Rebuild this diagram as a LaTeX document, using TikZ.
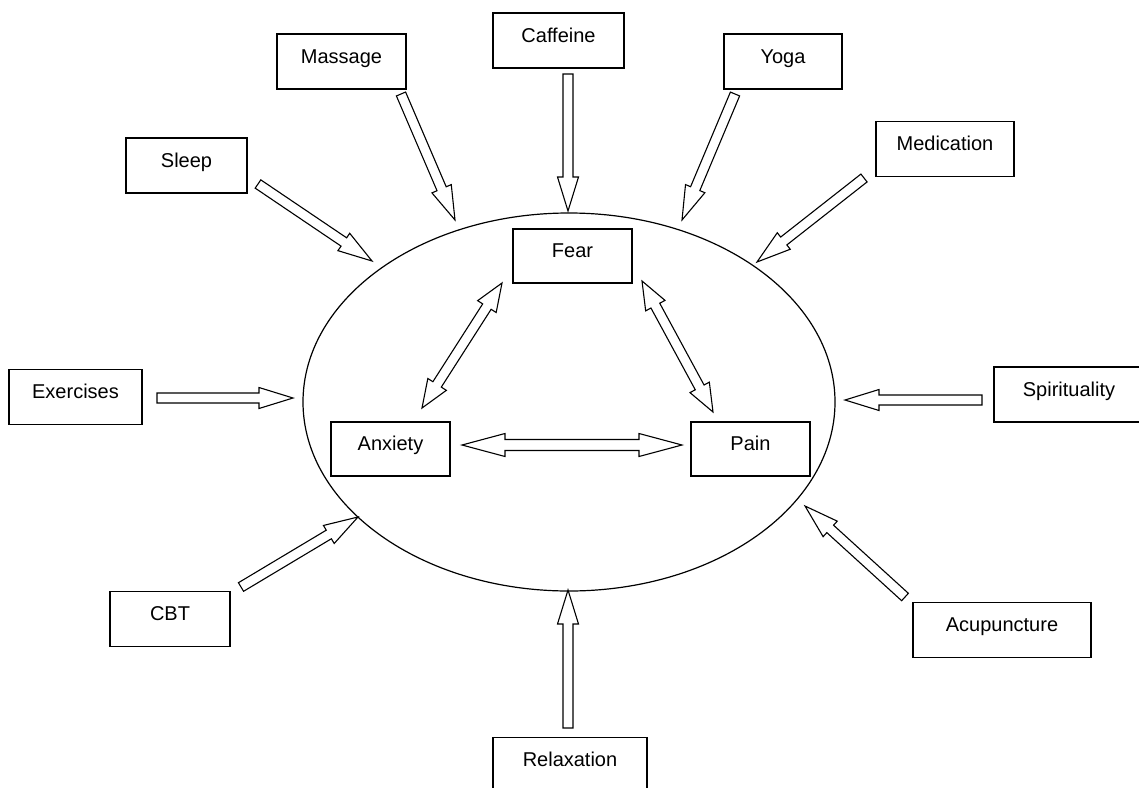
\documentclass[tikz,border=0pt]{standalone}
\usepackage{fontspec}
\setmainfont{Liberation Sans}
\usetikzlibrary{calc,shapes.geometric}
\tikzset{
  box/.style={draw, line width=1.3pt, minimum height=55pt, inner sep=0pt, text height=15pt, text depth=11.7pt, font=\fontsize{20}{24}\selectfont},
  blk/.style={draw, line width=1.1pt, fill=white, line join=miter},
}
\newcommand{\sarrow}[2]{%
  \draw[blk] let \p1=(#1), \p2=(#2), \n1={atan2(\y2-\y1,\x2-\x1)}, \n2={veclen(\x2-\x1,\y2-\y1)} in
  [shift={(\p1)}, rotate=\n1] (0pt,-5pt) -- ({\n2-34pt},-5pt) -- ({\n2-34pt},-10.5pt) -- (\n2,0pt)
  -- ({\n2-34pt},10.5pt) -- ({\n2-34pt},5pt) -- (0pt,5pt) -- cycle;}
\newcommand{\darrow}[5]{%
  \draw[blk] let \p1=(#1), \p2=(#2), \n1={atan2(\y2-\y1,\x2-\x1)}, \n2={veclen(\x2-\x1,\y2-\y1)} in
  [shift={(\p1)}, rotate=\n1] (0pt,0pt) -- (#3,-#4) -- (#3,-#5) -- ({\n2-#3},-#5) -- ({\n2-#3},-#4) -- (\n2,0pt)
  -- ({\n2-#3},#4) -- ({\n2-#3},#5) -- (#3,#5) -- (#3,#4) -- cycle;}
\begin{document}
\begin{tikzpicture}[x=1pt,y=-1pt]
\useasboundingbox (0,0) rectangle (1139,787);
\clip (0,0) rectangle (1139,787);
% central ellipse
\node[ellipse, draw, line width=1.2pt, minimum width=532pt, minimum height=378pt, inner sep=0pt] (ell) at (569,402) {};
% outer boxes
\node[box, minimum width=129pt] (massage) at (341.5,61.5) {Massage};
\node[box, minimum width=131pt] (caffeine) at (558.5,40.5) {Caffeine};
\node[box, minimum width=118pt] (yoga) at (783,61.5) {Yoga};
\node[box, minimum width=121pt] (sleep) at (186.5,165.5) {Sleep};
\node[box, minimum width=138pt] (medication) at (945,149) {Medication};
\node[box, minimum width=133pt] (exercises) at (75.5,397) {Exercises};
\node[box, minimum width=150pt] (spirituality) at (1069,394.5) {Spirituality};
\node[box, minimum width=120pt] (cbt) at (170,619) {CBT};
\node[box, minimum width=178pt] (acupuncture) at (1002,630) {Acupuncture};
\node[box, minimum width=154pt] (relaxation) at (570,765) {Relaxation};
% inner boxes
\node[box, minimum width=119pt, minimum height=54pt] (fear) at (572.5,256) {Fear};
\node[box, minimum width=119pt, minimum height=54pt] (anxiety) at (390.5,449) {Anxiety};
\node[box, minimum width=119pt, minimum height=54pt] (pain) at (750.5,449) {Pain};
% arrow end points
\coordinate (sleepT) at (258,184);   \coordinate (sleepH) at (372,261);
\coordinate (massT) at (401,94);     \coordinate (massH) at (455,220);
\coordinate (cafT) at (568,74);      \coordinate (cafH) at (568,211);
\coordinate (yogaT) at (735,94);     \coordinate (yogaH) at (682,220);
\coordinate (medT) at (864,178);     \coordinate (medH) at (757,262);
\coordinate (exT) at (157,398);      \coordinate (exH) at (293,398);
\coordinate (spT) at (982,400);      \coordinate (spH) at (845,400);
\coordinate (cbtT) at (241,587);     \coordinate (cbtH) at (358,517);
\coordinate (acuT) at (905,597);     \coordinate (acuH) at (805,506);
\coordinate (relT) at (568,728);     \coordinate (relH) at (568,590);
\coordinate (apA) at (462,445);      \coordinate (apP) at (682,445);
\coordinate (faF) at (502,283);      \coordinate (faA) at (422,408);
\coordinate (fpF) at (642,281);      \coordinate (fpP) at (713,412);
% single arrows
\sarrow{sleepT}{sleepH}
\sarrow{massT}{massH}
\sarrow{cafT}{cafH}
\sarrow{yogaT}{yogaH}
\sarrow{medT}{medH}
\sarrow{exT}{exH}
\sarrow{spT}{spH}
\sarrow{cbtT}{cbtH}
\sarrow{acuT}{acuH}
\sarrow{relT}{relH}
% double arrows
\darrow{apA}{apP}{43pt}{11.5pt}{5.5pt}
\darrow{faF}{faA}{28pt}{11pt}{5pt}
\darrow{fpF}{fpP}{28pt}{11pt}{5pt}
\end{tikzpicture}
\end{document}
